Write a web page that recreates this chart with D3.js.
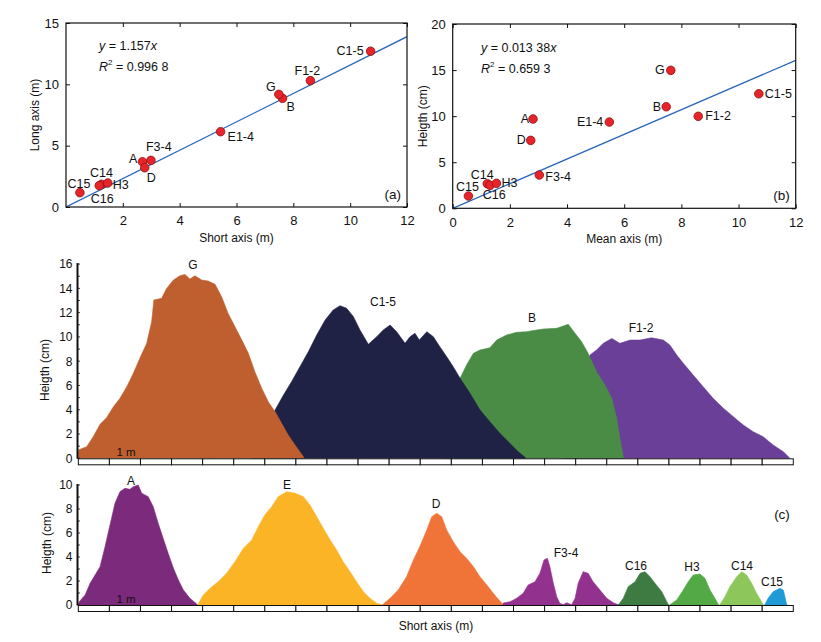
<!DOCTYPE html>
<html><head><meta charset="utf-8">
<script src="https://cdn.jsdelivr.net/npm/d3@7/dist/d3.min.js"></script>
<style>
body{margin:0;background:#fff;}
text{font-family:"Liberation Sans",Arial,Helvetica,sans-serif;fill:#111;}
</style>
</head><body>
<svg id="chart" width="821" height="642"></svg>
<script>
// ---------- DATA ----------
const moundNames = ["A","B","C1-5","C14","C15","C16","D","E1-4","F1-2","F3-4","G","H3"];
const shortAxis  = [2.69,7.62,10.72,1.25,0.49,1.17,2.77,5.44,8.60,2.99,7.49,1.47];
const longAxis   = [3.69,8.86,12.70,1.85,1.17,1.74,3.20,6.14,10.30,3.80,9.18,1.96];
const meanAxis   = [2.81,7.47,10.71,1.21,0.55,1.31,2.73,5.48,8.59,3.03,7.63,1.53];
const heightCm   = [9.69,11.02,12.43,2.67,1.33,2.49,7.37,9.36,9.98,3.61,14.97,2.71];
const slopeA = 1.157, r2A = "0.996 8";
const slopeB = 1.338, slopeBText = "0.013 38", r2B = "0.659 3";

const ticksAx = [2,4,6,8,10,12], ticksAy = [0,5,10,15];
const ticksBx = [0,2,4,6,8,10,12], ticksBy = [0,5,10,15,20];
const ticksTop = [0,2,4,6,8,10,12,14,16];
const ticksBot = [0,2,4,6,8,10];

// profiles: [distance along short axis (m), height (cm)]
const profileG = [[0,0],[0,0.68],[0.27,0.96],[0.48,1.78],[0.70,2.80],[0.91,3.35],[1.13,4.25],[1.34,4.94],[1.56,5.90],[1.77,7.00],[1.98,8.24],[2.20,9.47],[2.36,11.25],[2.43,13.04],[2.68,13.18],[2.84,14.00],[3.06,14.69],[3.27,15.04],[3.43,15.15],[3.59,14.77],[3.75,15.04],[3.97,14.69],[4.18,14.60],[4.40,14.33],[4.61,13.31],[4.82,11.94],[5.04,10.84],[5.26,9.74],[5.47,8.65],[5.68,7.13],[5.90,5.77],[6.11,4.66],[6.33,3.84],[6.54,2.88],[6.75,1.92],[6.97,1.10],[7.24,0.13],[7.26,0]];
const profileC15 = [[5.6,0],[6.0,2.2],[6.33,3.98],[6.60,5.21],[6.86,6.31],[7.13,7.55],[7.40,8.78],[7.67,10.16],[7.94,11.39],[8.20,12.22],[8.42,12.57],[8.63,12.36],[8.85,11.67],[9.06,10.57],[9.33,9.39],[9.60,10.02],[9.81,10.57],[10.03,10.98],[10.24,10.43],[10.51,9.47],[10.67,10.02],[10.83,10.30],[10.97,9.74],[11.21,10.43],[11.42,10.02],[11.63,9.19],[11.85,8.37],[12.06,7.55],[12.28,6.59],[12.60,5.35],[12.92,3.98],[13.24,3.01],[13.56,2.06],[13.88,1.24],[14.15,0.54],[14.37,0.08],[14.39,0]];
const profileB = [[11.7,0],[12.0,4.0],[12.28,6.59],[12.49,7.69],[12.71,8.65],[12.92,8.92],[13.24,9.11],[13.46,9.74],[13.78,10.16],[14.10,10.38],[14.42,10.43],[14.74,10.57],[14.96,10.65],[15.39,10.71],[15.76,11.04],[15.98,10.30],[16.19,9.60],[16.40,8.65],[16.67,7.13],[16.94,6.04],[17.16,4.94],[17.32,3.30],[17.42,1.65],[17.53,0.13],[17.55,0]];
const profileF12 = [[15.6,0],[16.0,5.0],[16.46,8.51],[16.67,8.92],[16.89,9.47],[17.16,9.88],[17.42,9.47],[17.75,9.74],[18.07,9.74],[18.44,9.93],[18.82,9.74],[19.03,9.33],[19.25,8.51],[19.46,7.83],[19.78,6.86],[20.10,5.90],[20.42,4.94],[20.75,4.12],[21.07,3.43],[21.39,2.74],[21.71,2.19],[22.03,1.78],[22.35,1.10],[22.68,0.54],[22.86,0.08],[22.88,0]];

const profileA = [[0,0],[0.03,0.28],[0.22,0.83],[0.38,1.81],[0.54,2.50],[0.70,3.19],[0.86,4.86],[1.02,6.67],[1.18,8.47],[1.34,9.44],[1.50,9.72],[1.66,9.64],[1.77,9.86],[1.93,10.0],[2.04,9.31],[2.25,9.03],[2.41,8.19],[2.57,6.81],[2.73,5.56],[2.89,4.31],[3.06,3.06],[3.22,2.08],[3.38,1.25],[3.59,0.56],[3.81,0.08],[3.83,0]];
const profileE = [[3.84,0],[3.86,0.08],[4.02,0.83],[4.24,1.39],[4.50,1.94],[4.77,2.64],[5.04,3.61],[5.31,4.72],[5.58,5.42],[5.79,6.53],[6.00,7.50],[6.22,8.19],[6.43,9.03],[6.70,9.44],[6.97,9.31],[7.24,9.03],[7.45,8.33],[7.67,7.36],[7.88,6.39],[8.10,5.42],[8.31,4.58],[8.52,3.61],[8.74,2.78],[8.95,1.94],[9.17,1.11],[9.38,0.56],[9.60,0.14],[9.76,0.03],[9.78,0]];
const profileD = [[9.79,0],[9.81,0.08],[10.03,0.56],[10.29,1.25],[10.56,2.36],[10.78,3.75],[10.99,4.90],[11.21,6.25],[11.37,7.36],[11.53,7.64],[11.69,7.36],[11.85,6.25],[12.06,5.28],[12.28,4.44],[12.49,3.89],[12.71,3.19],[12.92,2.36],[13.14,1.67],[13.35,0.97],[13.56,0.33],[13.67,0.03],[13.69,0]];
const profileF34 = [[13.66,0],[13.67,0.17],[13.89,0.28],[14.10,0.56],[14.31,0.97],[14.47,1.67],[14.69,1.94],[14.85,2.64],[14.98,3.75],[15.09,3.89],[15.17,3.19],[15.28,1.81],[15.39,0.69],[15.49,0.14],[15.60,0.03],[15.71,0.19],[15.87,0.03],[15.98,0.56],[16.08,1.81],[16.24,2.78],[16.40,2.64],[16.56,1.94],[16.78,1.25],[17.00,0.56],[17.21,0.19],[17.37,0.03],[17.39,0]];
const profileC16 = [[17.37,0],[17.53,0.56],[17.69,1.53],[17.91,1.94],[18.07,2.64],[18.23,2.78],[18.39,2.36],[18.55,1.81],[18.77,1.11],[18.98,0.03],[19.0,0]];
const profileH3 = [[19.02,0],[19.25,0.42],[19.46,1.25],[19.62,1.94],[19.78,2.50],[20.00,2.58],[20.16,2.22],[20.32,1.25],[20.48,0.56],[20.59,0.03],[20.61,0]];
const profileC14 = [[20.63,0],[20.80,0.69],[20.96,1.53],[21.18,2.36],[21.34,2.78],[21.50,2.50],[21.66,1.81],[21.82,0.97],[21.98,0.28],[22.03,0.03],[22.05,0]];
const profileC15b = [[22.08,0],[22.19,0.56],[22.35,1.11],[22.57,1.39],[22.68,1.25],[22.79,0.03],[22.81,0]];

// ---------- LAYOUT / STYLE ----------
const svg = d3.select("#chart");
const FONT = '"Liberation Sans",Arial,sans-serif';

function scatterPanel(o){
  const g = svg.append("g");
  const x = d3.scaleLinear().domain([0,12]).range([o.left,o.right]);
  const y = d3.scaleLinear().domain(o.yDom).range([o.bottom,o.top]);
  const tk = 4;
  // fit line (clipped)
  const cid = "clip"+o.id;
  svg.append("clipPath").attr("id",cid).append("rect")
    .attr("x",o.left).attr("y",o.top).attr("width",o.right-o.left).attr("height",o.bottom-o.top);
  const xe = Math.min(12, o.yDom[1]/o.slope);
  g.append("line").attr("clip-path","url(#"+cid+")")
    .attr("x1",x(0)).attr("y1",y(0)).attr("x2",x(xe)).attr("y2",y(o.slope*xe))
    .attr("stroke","#2a66b8").attr("stroke-width",1.3);
  // axes
  const ax = g.append("g").attr("transform",`translate(0,${o.bottom})`)
    .call(d3.axisBottom(x).tickValues(o.xt).tickSize(-tk).tickPadding(9).tickFormat(d3.format("d")));
  const ay = g.append("g").attr("transform",`translate(${o.left},0)`)
    .call(d3.axisLeft(y).tickValues(o.yt).tickSize(-tk).tickPadding(7).tickFormat(d3.format("d")));
  g.append("g").attr("transform",`translate(0,${o.top})`)
    .call(d3.axisTop(x).tickValues(o.xt).tickSize(-tk).tickFormat(""));
  g.append("g").attr("transform",`translate(${o.right},0)`)
    .call(d3.axisRight(y).tickValues(o.yt).tickSize(-tk).tickFormat(""));
  g.selectAll(".domain").remove();
  g.selectAll(".tick line").attr("stroke","#111");
  g.selectAll(".tick text").attr("font-size",13).attr("font-family",FONT).attr("fill","#111");
  g.append("rect").attr("x",o.left).attr("y",o.top).attr("width",o.right-o.left).attr("height",o.bottom-o.top)
    .attr("fill","none").attr("stroke","#111").attr("stroke-width",1.2);
  // points
  const pts = moundNames.map((n,i)=>({n, xv:o.xs[i], yv:o.ys[i]}));
  g.selectAll("circle.pt").data(pts).join("circle").attr("class","pt")
    .attr("cx",d=>x(d.xv)).attr("cy",d=>y(d.yv)).attr("r",4.3)
    .attr("fill","#e8242a").attr("stroke","#8a1414").attr("stroke-width",0.8);
  g.selectAll("text.lb").data(pts).join("text").attr("class","lb")
    .attr("x",d=>x(d.xv)+o.lab[d.n][0]).attr("y",d=>y(d.yv)+o.lab[d.n][1])
    .attr("text-anchor",d=>o.lab[d.n][2]).attr("dominant-baseline","central")
    .attr("font-size",12.5).text(d=>d.n);
  // equation
  const e1 = g.append("text").attr("x",o.eqX).attr("y",o.eqY).attr("font-size",12.5).attr("dominant-baseline","central");
  e1.append("tspan").attr("font-style","italic").text("y");
  e1.append("tspan").text(" = "+o.slopeText);
  e1.append("tspan").attr("font-style","italic").text("x");
  const e2 = g.append("text").attr("x",o.eqX).attr("y",o.eqY+21).attr("font-size",12.5).attr("dominant-baseline","central");
  e2.append("tspan").attr("font-style","italic").text("R");
  e2.append("tspan").attr("font-size",8).attr("dy",-5).text("2");
  e2.append("tspan").attr("dy",5).text(" = "+o.r2);
  g.append("text").attr("x",o.right-6).attr("y",o.bottom-13).attr("text-anchor","end")
    .attr("dominant-baseline","central").attr("font-size",13.5).text(o.letter);
  // titles
  g.append("text").attr("x",(o.left+o.right)/2).attr("y",o.bottom+31).attr("text-anchor","middle")
    .attr("dominant-baseline","central").attr("font-size",12).text(o.xTitle);
  g.append("text").attr("transform",`translate(${o.yTitleX},${(o.top+o.bottom)/2}) rotate(-90)`)
    .attr("text-anchor","middle").attr("dominant-baseline","central").attr("font-size",12).text(o.yTitle);
}

scatterPanel({id:"a", left:66, right:407, top:23, bottom:207, yDom:[0,15], xt:ticksAx, yt:ticksAy,
  xs:shortAxis, ys:longAxis, slope:slopeA, slopeText:String(slopeA), r2:r2A, letter:"(a)",
  eqX:99, eqY:46, xTitle:"Short axis (m)", yTitle:"Long axis (m)", yTitleX:35,
  lab:{"C1-5":[-7,0,"end"],"F1-2":[-3,-10,"middle"],"G":[-3,-7,"end"],"B":[4,9,"start"],
       "E1-4":[7,5,"start"],"F3-4":[-5,-13,"start"],"A":[-5,-3,"end"],"D":[2,10,"start"],
       "C14":[0,-11,"middle"],"H3":[5,2,"start"],"C15":[-1,-9,"middle"],"C16":[3,13,"middle"]}});

scatterPanel({id:"b", left:452.7, right:795.7, top:24, bottom:208.3, yDom:[0,20], xt:ticksBx, yt:ticksBy,
  xs:meanAxis, ys:heightCm, slope:slopeB, slopeText:slopeBText, r2:r2B, letter:"(b)",
  eqX:481, eqY:48, xTitle:"Mean axis (m)", yTitle:"Heigth (cm)", yTitleX:423,
  lab:{"C1-5":[6,0,"start"],"F1-2":[7,0,"start"],"G":[-6,0,"end"],"B":[-5,0,"end"],
       "E1-4":[-6,0,"end"],"F3-4":[6,2,"start"],"A":[-4,0,"end"],"D":[-5,0,"end"],
       "C14":[-5,-9,"middle"],"H3":[5,0,"start"],"C15":[-1,-9,"middle"],"C16":[4,10,"middle"]}});

// ---------- PROFILES ----------
const px = d3.scaleLinear().domain([0,23]).range([78.3,793.3]);
function profilePanel(o){
  const g = svg.append("g");
  const y = d3.scaleLinear().domain([0,o.ymax]).range([o.base,o.top]);
  const area = d3.area().x(d=>px(d[0])).y0(y(0)).y1(d=>y(d[1]));
  o.series.forEach(s=>{
    g.append("path").datum(s.data).attr("d",area).attr("fill",s.color).attr("stroke",s.color).attr("stroke-width",0.6);
  });
  o.series.forEach(s=>{
    g.append("text").attr("x",s.lx).attr("y",s.ly).attr("text-anchor","middle").attr("dominant-baseline","central")
      .attr("font-size",12).text(s.name);
  });
  // scale bar
  const segs = d3.range(23);
  g.selectAll("rect.seg").data(segs).join("rect").attr("class","seg")
    .attr("x",d=>px(d)).attr("width",d=>px(d+1)-px(d)).attr("y",y(0)+0.5).attr("height",6)
    .attr("fill","#fff").attr("stroke","#111").attr("stroke-width",1);
  // y axis
  const ay = g.append("g").attr("transform",`translate(77.5,0)`)
    .call(d3.axisLeft(y).tickValues(o.ticks).tickSize(0).tickPadding(5).tickFormat(d3.format("d")));
  ay.select(".domain").remove();
  ay.selectAll(".tick text").attr("font-size",12).attr("font-family",FONT).attr("fill","#111");
  g.append("line").attr("x1",77.5).attr("x2",77.5).attr("y1",y(0)+0.5).attr("y2",y(o.ymax)-1)
    .attr("stroke","#111").attr("stroke-width",2);
  g.selectAll("line.mt").data(d3.range(0,o.ymax+0.01,1)).join("line").attr("class","mt")
    .attr("x1",78).attr("x2",80).attr("y1",d=>y(d)).attr("y2",d=>y(d)).attr("stroke","#111").attr("stroke-width",0.8);
  g.append("text").attr("x",126).attr("y",y(0)-6).attr("text-anchor","middle").attr("dominant-baseline","central")
    .attr("font-size",11.5).text("1 m");
  g.append("text").attr("transform",`translate(${o.titleX},${o.titleY}) rotate(-90)`)
    .attr("text-anchor","middle").attr("dominant-baseline","central").attr("font-size",12).text("Heigth (cm)");
}

profilePanel({base:458.3, top:264.1, ymax:16, ticks:ticksTop, titleX:45, titleY:370,
  series:[
    {name:"F1-2", data:profileF12, color:"#693f97", lx:641, ly:328},
    {name:"B", data:profileB, color:"#4a8c46", lx:532, ly:318},
    {name:"C1-5", data:profileC15, color:"#1f2244", lx:383, ly:302},
    {name:"G", data:profileG, color:"#bf5f2f", lx:193, ly:265}
  ]});

profilePanel({base:605, top:485, ymax:10, ticks:ticksBot, titleX:47, titleY:543,
  series:[
    {name:"A", data:profileA, color:"#7c2a7b", lx:131, ly:481},
    {name:"E", data:profileE, color:"#fbb426", lx:287, ly:485},
    {name:"D", data:profileD, color:"#f07337", lx:436, ly:504},
    {name:"F3-4", data:profileF34, color:"#93318f", lx:566, ly:553},
    {name:"C16", data:profileC16, color:"#3e7b42", lx:636, ly:566},
    {name:"H3", data:profileH3, color:"#52a946", lx:692, ly:567},
    {name:"C14", data:profileC14, color:"#8dc75b", lx:742, ly:566},
    {name:"C15", data:profileC15b, color:"#1e9ad6", lx:772, ly:582}
  ]});

svg.append("text").attr("x",782).attr("y",514).attr("text-anchor","middle").attr("dominant-baseline","central")
  .attr("font-size",13.5).text("(c)");
svg.append("text").attr("x",436).attr("y",626).attr("text-anchor","middle").attr("dominant-baseline","central")
  .attr("font-size",12).text("Short axis (m)");
</script>
</body></html>
